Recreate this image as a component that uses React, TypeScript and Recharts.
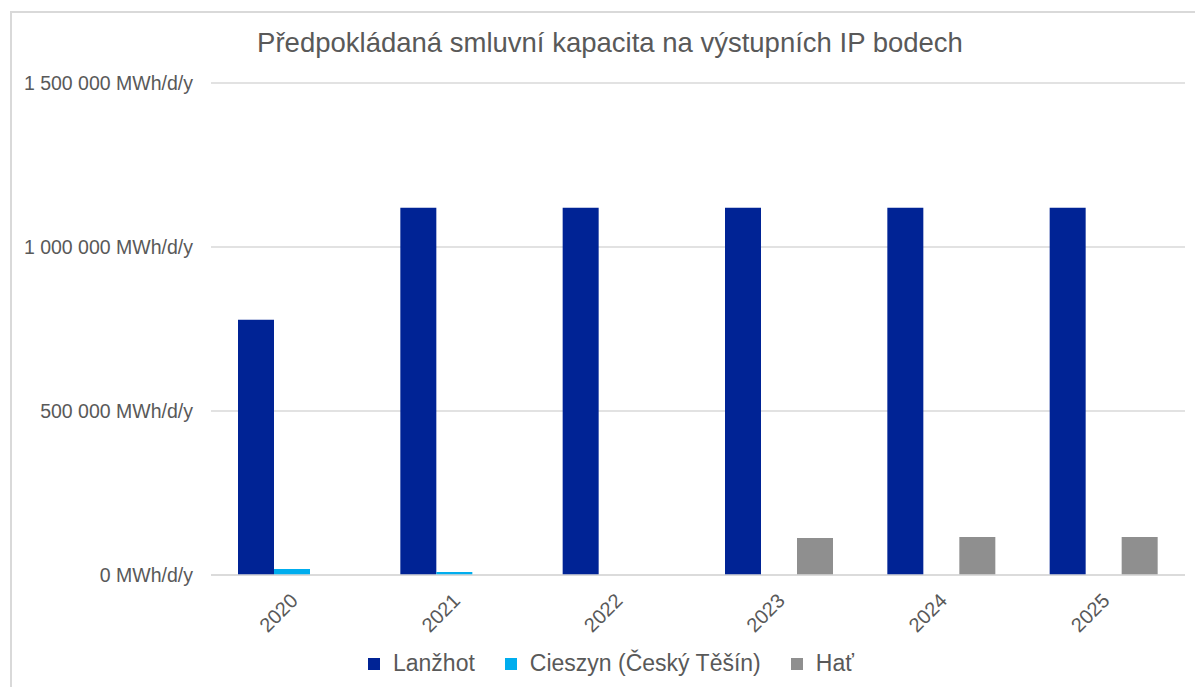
import { BarChart, Bar, XAxis, YAxis, CartesianGrid } from 'recharts';

const years = ['2020', '2021', '2022', '2023', '2024', '2025'];
const lanzhot = [778000, 1120000, 1120000, 1120000, 1120000, 1120000];
const cieszyn = [18000, 9000, 0, 0, 0, 0];
const hat = [0, 0, 0, 113000, 116000, 116000];
const yTicks = [0, 500000, 1000000, 1500000];

const series = [
  { key: 'lanzhot', name: 'Lanžhot', color: '#002395' },
  { key: 'cieszyn', name: 'Cieszyn (Český Těšín)', color: '#00ADEE' },
  { key: 'hat', name: 'Hať', color: '#8F8F8F' },
];

const data = years.map((year, i) => ({
  year,
  lanzhot: lanzhot[i],
  cieszyn: cieszyn[i],
  hat: hat[i],
}));

const FONT = '"Liberation Sans", Arial, sans-serif';
const TEXT = '#595959';

const formatTick = (v: number) =>
  `${v.toString().replace(/\B(?=(\d{3})+(?!\d))/g, ' ')} MWh/d/y`;

// rotated year labels, anchored at their right end
const YearTick = (props: any) => {
  const { x, y, payload } = props;
  return (
    <text
      x={x + 2}
      y={y + 14}
      dy="0.35em"
      textAnchor="end"
      transform={`rotate(-45 ${x + 2} ${y + 14})`}
      fill={TEXT}
      fontSize={20}
      fontFamily={FONT}
    >
      {payload.value}
    </text>
  );
};

export default function App() {
  return (
    <div style={{ position: 'fixed', left: 0, top: 0, width: 1195, height: 687, background: '#fff', overflow: 'hidden', fontFamily: FONT }}>
      {/* chart frame */}
      <div style={{ position: 'absolute', left: 10, top: 11, width: 1200, height: 700, border: '2px solid #d9d9d9' }} />
      <div style={{ position: 'absolute', left: 0, top: 27, width: 1220, textAlign: 'center', fontSize: 27.5, color: TEXT }}>
        Předpokládaná smluvní kapacita na výstupních IP bodech
      </div>
      <div style={{ position: 'absolute', left: 0, top: 0 }}>
        <BarChart
          width={1195}
          height={687}
          data={data}
          margin={{ top: 83, right: 10, bottom: 82, left: 0 }}
          barGap={0}
          barSize={36}
        >
          <CartesianGrid vertical={false} stroke="#d9d9d9" strokeWidth={1.5} />
          <XAxis
            dataKey="year"
            height={30}
            axisLine={{ stroke: '#d9d9d9', strokeWidth: 1.5 }}
            tickLine={false}
            tick={<YearTick />}
            interval={0}
          />
          <YAxis
            width={211}
            domain={[0, 1500000]}
            ticks={yTicks}
            tickFormatter={formatTick}
            axisLine={false}
            tickLine={false}
            tickSize={0}
            tickMargin={18}
            tick={{ fill: TEXT, fontSize: 19.5, fontFamily: FONT }}
          />
          {series.map((s) => (
            <Bar key={s.key} dataKey={s.key} name={s.name} fill={s.color} isAnimationActive={false} />
          ))}
        </BarChart>
      </div>
      {/* legend */}
      <div style={{ position: 'absolute', left: 368, top: 650, display: 'flex' }}>
        {series.map((s) => (
          <div key={s.key} style={{ display: 'flex', alignItems: 'center', marginRight: 30, fontSize: 23, lineHeight: '27px', color: TEXT }}>
            <span style={{ display: 'inline-block', width: 12, height: 12, background: s.color, marginRight: 13 }} />
            {s.name}
          </div>
        ))}
      </div>
    </div>
  );
}
